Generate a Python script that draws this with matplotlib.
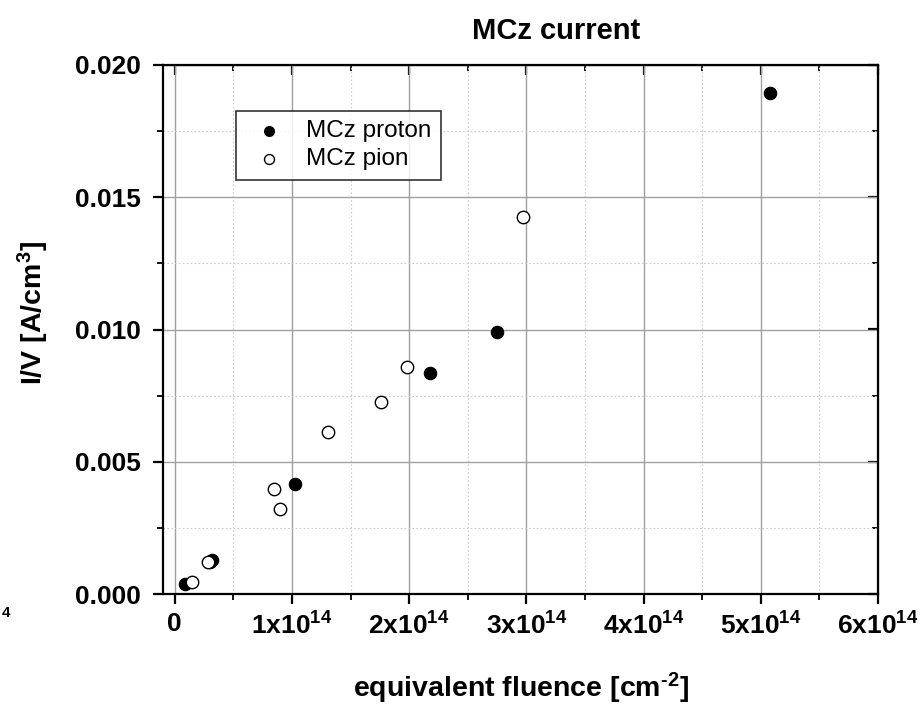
import matplotlib
matplotlib.use("Agg")
import matplotlib.pyplot as plt
from matplotlib.ticker import MultipleLocator, FixedLocator

# ---------------------------------------------------------------------------
# DATA
# ---------------------------------------------------------------------------
proton_fluence = [0.085e14, 0.30e14, 0.315e14, 1.024e14, 2.18e14, 2.75e14, 5.08e14]
proton_current = [0.00038, 0.00120, 0.00130, 0.00416, 0.00836, 0.00990, 0.01894]

pion_fluence = [0.145e14, 0.28e14, 0.845e14, 0.90e14, 1.31e14, 1.76e14, 1.98e14, 2.97e14]
pion_current = [0.00045, 0.00121, 0.00397, 0.00321, 0.00612, 0.00726, 0.00858, 0.01425]

x_ticks = [0, 1e14, 2e14, 3e14, 4e14, 5e14, 6e14]
x_tick_labels = ["0", r"1x10$^{14}$", r"2x10$^{14}$", r"3x10$^{14}$",
                 r"4x10$^{14}$", r"5x10$^{14}$", r"6x10$^{14}$"]
y_ticks = [0.000, 0.005, 0.010, 0.015, 0.020]
y_tick_labels = ["0.000", "0.005", "0.010", "0.015", "0.020"]

# ---------------------------------------------------------------------------
# STYLE
# ---------------------------------------------------------------------------
plt.rcParams["font.family"] = ["Liberation Sans", "DejaVu Sans"]
plt.rcParams["mathtext.fontset"] = "custom"
plt.rcParams["mathtext.rm"] = "Liberation Sans:bold"
plt.rcParams["mathtext.bf"] = "Liberation Sans:bold"
plt.rcParams["mathtext.it"] = "Liberation Sans:bold:italic"
plt.rcParams["mathtext.default"] = "bf"

fig = plt.figure(figsize=(9.24, 7.06), dpi=100)
ax = fig.add_axes([163 / 924, 1 - 594 / 706, 715 / 924, 529 / 706])

ax.scatter(proton_fluence, proton_current, s=80, c="black", edgecolors="black",
           linewidths=0.8, zorder=3, label="MCz proton")
ax.scatter(pion_fluence, pion_current, s=80, facecolors="white", edgecolors="black",
           linewidths=1.0, zorder=3, label="MCz pion")

ax.set_xlim(-0.1e14, 6e14)
ax.set_ylim(0, 0.020)

ax.xaxis.set_major_locator(FixedLocator(x_ticks))
ax.set_xticklabels(x_tick_labels)
ax.xaxis.set_minor_locator(MultipleLocator(0.5e14))
ax.yaxis.set_major_locator(FixedLocator(y_ticks))
ax.set_yticklabels(y_tick_labels)
ax.yaxis.set_minor_locator(MultipleLocator(0.0025))

ax.grid(True, which="major", color="#a0a0a0", linewidth=1.0, linestyle="-")
ax.grid(True, which="minor", color="#cccccc", linewidth=0.8, linestyle=(0, (1.5, 2)))
ax.set_axisbelow(True)

for sp in ax.spines.values():
    sp.set_linewidth(1.6)

ax.tick_params(which="major", direction="out", length=7, width=1.6,
               labelsize=19, pad=6)
ax.tick_params(which="minor", direction="out", length=4, width=1.3)
ax.tick_params(axis="y", pad=9)
for lab in ax.get_xticklabels() + ax.get_yticklabels():
    lab.set_fontweight("bold")

# top and right ticks point inward
top = ax.secondary_xaxis("top")
top.xaxis.set_major_locator(FixedLocator(x_ticks))
top.xaxis.set_minor_locator(MultipleLocator(0.5e14))
top.tick_params(which="major", direction="in", length=7, width=1.6, labeltop=False)
top.tick_params(which="minor", direction="in", length=4, width=1.3)
right = ax.secondary_yaxis("right")
right.yaxis.set_major_locator(FixedLocator(y_ticks))
right.yaxis.set_minor_locator(MultipleLocator(0.0025))
right.tick_params(which="major", direction="in", length=7, width=1.6, labelright=False)
right.tick_params(which="minor", direction="in", length=4, width=1.3)

ax.set_xlabel(r"equivalent fluence [cm$^{\text{-}2}$]", fontsize=20.5, fontweight="bold")
ax.xaxis.set_label_coords(0.50, -0.145)
ax.set_ylabel(r"I/V [A/cm$^{3}$]", fontsize=20.5, fontweight="bold")
ax.yaxis.set_label_coords(-0.157, 0.531)

fig.text(556 / 924, 1 - 31 / 706, "MCz current", ha="center", va="center",
         fontsize=21, fontweight="bold")

# clipped tick-label remnant at the far left
fig.text(2 / 924, 1 - 613 / 706, "4", ha="left", va="center",
         fontsize=11, fontweight="bold")

leg = ax.legend(loc="upper left", bbox_to_anchor=(0.102, 0.913), fontsize=17.5,
                frameon=True, fancybox=False, edgecolor="black",
                borderaxespad=0, handletextpad=0.5, borderpad=0.38,
                labelspacing=0.25, markerscale=0.8, handlelength=2.0)
leg.get_frame().set_linewidth(1.2)

fig.savefig("out.png", dpi=100)
